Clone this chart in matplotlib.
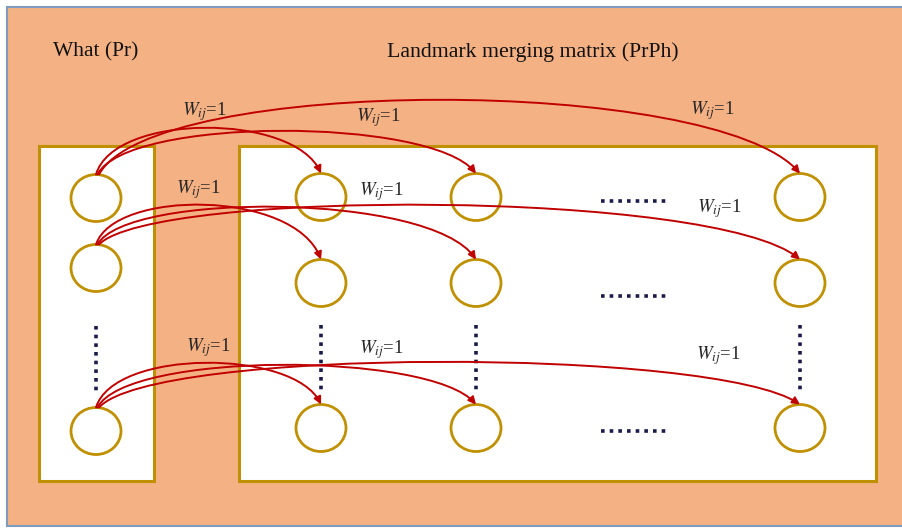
import matplotlib.pyplot as plt
from matplotlib.patches import Rectangle, Ellipse, FancyArrowPatch
from matplotlib.path import Path

plt.rcParams['mathtext.fontset'] = 'stix'

# panel titles
titles = ['What (Pr)', 'Landmark merging matrix (PrPh)']
weight_label = r'$W_{ij}$=1'

# node layout (pixels)
left_x = 96
left_rows = [198, 268, 431]
matrix_cols = [321, 476, 800]
matrix_rows = [197, 283, 428]

# apex height of each arrow: one row per source node, one entry per target column
apex_y = [[128, 131, 100],
          [205, 207, 205],
          [363, 365, 362]]

# weight label positions per arrow
label_x = [[204, 378, 712], [198, 381, 719], [208, 381, 718]]
label_y = [[112, 118, 111], [190, 192, 209], [348, 350, 356]]

fill = '#F4B183'
gold = '#BF9000'
red = '#C00000'
dots = '#1B1B48'

fig = plt.figure(figsize=(9.02, 5.28), dpi=100)
ax = fig.add_axes([0, 0, 1, 1])
ax.set_xlim(0, 902)
ax.set_ylim(528, 0)
ax.axis('off')

# background panel
ax.add_patch(Rectangle((7, 7), 910, 519, facecolor=fill, edgecolor='#7F9CC0', lw=1.5))

# two group boxes
ax.add_patch(Rectangle((39, 146), 115, 335, facecolor='white', edgecolor=gold, lw=2.2))
ax.add_patch(Rectangle((239, 146), 637, 335, facecolor='white', edgecolor=gold, lw=2.2))

ax.text(53, 52, titles[0], fontsize=15.5, family='Liberation Serif', va='center', ha='left', color='#111111')
ax.text(387, 52, titles[1], fontsize=15.7, family='Liberation Serif', va='center', ha='left', color='#111111')

rx, ry = 25, 23.5


def node(x, y):
    ax.add_patch(Ellipse((x, y), 2 * rx, 2 * ry, facecolor='white', edgecolor=gold, lw=2.0, zorder=3))


for i in [0, 1, 2]:
    node(left_x, left_rows[i])
    for x in matrix_cols:
        node(x, matrix_rows[i])

# dotted ellipses
dot_style = dict(color=dots, lw=2.6, linestyle=(0, (1, 1.4)), dash_capstyle='butt', zorder=2)
ax.plot([left_x, left_x], [326, 393], **dot_style)
for x in matrix_cols:
    ax.plot([x, x], [325, 393], **dot_style)
for y in [201, 296, 431]:
    ax.plot([601, 669], [y, y], **dot_style)

# arrows from each left node to every matrix node in its row
for i in [0, 1, 2]:
    x0, y0 = left_x, left_rows[i] - ry
    for j, xt in enumerate(matrix_cols):
        x3, y3 = xt, matrix_rows[i] - ry
        dx = x3 - x0
        c = (apex_y[i][j] - 0.125 * (y0 + y3)) / 0.75
        verts = [(x0 + j * 1.5, y0), (x0 + 0.08 * dx, c), (x3 - 0.12 * dx, c), (x3, y3)]
        path = Path(verts, [Path.MOVETO, Path.CURVE4, Path.CURVE4, Path.CURVE4])
        ax.add_patch(FancyArrowPatch(path=path, arrowstyle='-|>', mutation_scale=11,
                                     color=red, lw=1.4, zorder=4))
        ax.text(label_x[i][j], label_y[i][j], weight_label, fontsize=13.5, family='Liberation Serif',
                ha='center', va='center', color='#262626', zorder=5)

fig.savefig('out.png', dpi=100)
